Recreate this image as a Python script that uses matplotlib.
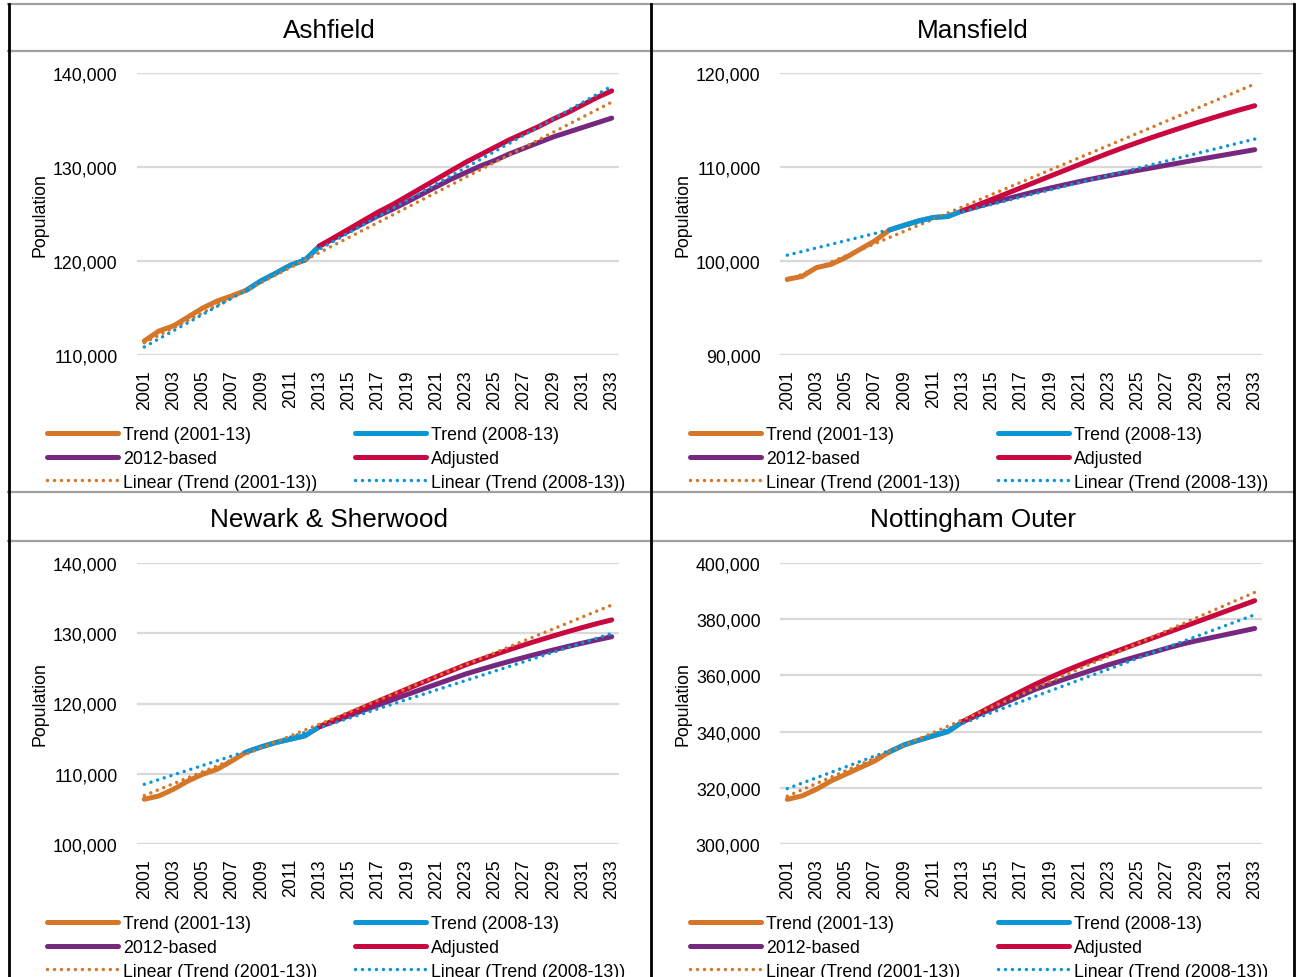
import matplotlib
matplotlib.use("Agg")
import matplotlib.pyplot as plt
from matplotlib.lines import Line2D
from matplotlib.ticker import FuncFormatter

plt.rcParams['font.family'] = ['Liberation Sans', 'DejaVu Sans']

years = list(range(2001, 2034))
hist_years = list(range(2001, 2014))
proj_years = list(range(2013, 2034))
tick_years = list(range(2001, 2034, 2))

districts = ["Ashfield", "Mansfield", "Newark & Sherwood", "Nottingham Outer"]

# history 2001-2013 (orange trend to 2008, blue trend 2008-2013)
ashfield_hist = [111500, 112550, 113100, 114050, 115000, 115750, 116300, 116900,
                 117900, 118700, 119550, 120100, 121600]
mansfield_hist = [98060, 98350, 99300, 99650, 100370, 101260, 102150, 103300,
                  103800, 104270, 104630, 104740, 105340]
newark_hist = [106370, 106840, 107800, 108980, 109930, 110640, 111830, 113100,
               113820, 114440, 114920, 115400, 116700]
notts_hist = [315900, 317100, 319480, 322450, 324820, 327200, 329570, 332800,
              335270, 336940, 338480, 340020, 343470]

# projections 2013-2033 (thousands)
ashfield_2012 = [121.6, 122.4, 123.2, 124.0, 124.8, 125.5, 126.3, 127.1, 127.9, 128.7, 129.4,
                 130.1, 130.7, 131.4, 132.0, 132.6, 133.2, 133.7, 134.2, 134.7, 135.2]
ashfield_adj = [121.6, 122.5, 123.4, 124.3, 125.2, 126.0, 126.9, 127.8, 128.7, 129.6, 130.5,
                131.3, 132.1, 132.9, 133.6, 134.3, 135.1, 135.8, 136.6, 137.4, 138.1]
mansfield_2012 = [105.34, 105.77, 106.19, 106.60, 107.00, 107.39, 107.76, 108.11, 108.45,
                  108.77, 109.07, 109.36, 109.64, 109.92, 110.20, 110.48, 110.76, 111.03,
                  111.30, 111.57, 111.84]
mansfield_adj = [105.34, 105.94, 106.55, 107.17, 107.79, 108.41, 109.03, 109.65, 110.27,
                 110.88, 111.48, 112.06, 112.62, 113.16, 113.68, 114.19, 114.69, 115.17,
                 115.64, 116.09, 116.52]
newark_2012 = [116.70, 117.47, 118.24, 119.01, 119.77, 120.53, 121.28, 122.02, 122.75,
               123.48, 124.20, 124.82, 125.42, 126.00, 126.56, 127.10, 127.62, 128.12,
               128.60, 129.06, 129.50]
newark_adj = [116.70, 117.62, 118.53, 119.43, 120.32, 121.20, 122.08, 122.95, 123.81,
              124.66, 125.50, 126.25, 126.97, 127.67, 128.34, 128.99, 129.62, 130.23,
              130.82, 131.38, 131.90]
notts_2012 = [343.5, 345.8, 348.1, 350.5, 352.8, 355.1, 356.9, 358.7, 360.4, 362.1, 363.8,
              365.3, 366.8, 368.2, 369.7, 371.1, 372.3, 373.4, 374.5, 375.6, 376.7]
notts_adj = [343.50, 346.25, 348.97, 351.65, 354.29, 356.89, 359.29, 361.54, 363.66,
             365.66, 367.59, 369.49, 371.39, 373.29, 375.19, 377.09, 378.99, 380.89,
             382.79, 384.69, 386.59]

# linear trendlines, values at 2001 and 2033
ashfield_lin01 = [111300, 136900]
ashfield_lin08 = [110850, 138600]
mansfield_lin01 = [97930, 118830]
mansfield_lin08 = [100620, 112970]
newark_lin01 = [106900, 134010]
newark_lin08 = [108500, 129980]
notts_lin01 = [317000, 389550]
notts_lin08 = [319710, 381590]

ylims = [(110000, 140000, 10000), (90000, 120000, 10000),
         (100000, 140000, 10000), (300000, 400000, 20000)]

hists = [ashfield_hist, mansfield_hist, newark_hist, notts_hist]
based = [ashfield_2012, mansfield_2012, newark_2012, notts_2012]
adjusted = [ashfield_adj, mansfield_adj, newark_adj, notts_adj]
lin01 = [ashfield_lin01, mansfield_lin01, newark_lin01, notts_lin01]
lin08 = [ashfield_lin08, mansfield_lin08, newark_lin08, notts_lin08]

ORANGE = "#D67628"
BLUE = "#0A96D6"
PURPLE = "#76287F"
RED = "#C8083E"
GRID = "#D9D9D9"
FRAME = "#A0A0A0"
FS = 12.8

W, H = 1297, 978
fig = plt.figure(figsize=(W / 100, H / 100), dpi=100)

# panel geometry in pixels: (axes left, axes top, axes bottom, panel left, title y)
panels = [(137, 74, 356, 8, 31), (780, 74, 356, 651, 31),
          (137, 564, 845, 8, 520), (780, 564, 845, 651, 520)]
AX_W = 482

fmt = FuncFormatter(lambda v, p: f"{int(v):,}")
dots = (0, (0.01, 2.0))

for i, name in enumerate(districts):
    axl, axt, axb, pl, ty = panels[i]
    ax = fig.add_axes([axl / W, 1 - axb / H, AX_W / W, (axb - axt) / H])
    lo, hi, step = ylims[i]
    ax.set_ylim(lo, hi)
    ax.set_xlim(years[0] - 0.5, years[-1] + 0.5)
    ax.set_yticks(range(lo, hi + 1, step))
    ax.yaxis.set_major_formatter(fmt)
    ax.set_xticks(tick_years)
    ax.set_xticklabels([str(y) for y in tick_years], rotation=90)
    ax.grid(axis='y', color=GRID, lw=1.6)
    ax.set_axisbelow(True)
    for s in ax.spines.values():
        s.set_visible(False)
    ax.tick_params(length=0, labelsize=FS)
    ax.tick_params(axis='y', pad=14)
    ax.tick_params(axis='x', pad=10)
    ax.set_ylabel("Population", fontsize=FS, labelpad=3)

    h = hists[i]
    scale = 1000
    l1, = ax.plot(hist_years, h, color=ORANGE, lw=3.6, solid_capstyle='round')
    l2, = ax.plot(hist_years[7:], h[7:], color=BLUE, lw=3.6, solid_capstyle='round')
    l3, = ax.plot(proj_years, [v * scale for v in based[i]], color=PURPLE, lw=3.6,
                  solid_capstyle='round')
    l4, = ax.plot(proj_years, [v * scale for v in adjusted[i]], color=RED, lw=3.6,
                  solid_capstyle='round')
    l5, = ax.plot([years[0], years[-1]], lin01[i], color=ORANGE, lw=2.5,
                  linestyle=dots, dash_capstyle='round')
    l6, = ax.plot([years[0], years[-1]], lin08[i], color=BLUE, lw=2.5,
                  linestyle=dots, dash_capstyle='round')

    ax.legend([l1, l3, l5, l2, l4, l6],
              ["Trend (2001-13)", "2012-based", "Linear (Trend (2001-13))",
               "Trend (2008-13)", "Adjusted", "Linear (Trend (2008-13))"],
              ncol=2, loc='upper left', frameon=False, fontsize=FS,
              bbox_to_anchor=((pl + 39) / W, 1 - (axb + 71) / H),
              bbox_transform=fig.transFigure, borderpad=0, borderaxespad=0,
              handlelength=4.0, handletextpad=0.28, columnspacing=2.1,
              labelspacing=0.38)

    fig.text((pl + 321.5) / W, 1 - ty / H, name, ha='center', va='center', fontsize=18.8)

# panel frames
for y in (5, 52, 493, 542):
    fig.add_artist(Line2D([8 / W, 1294 / W], [1 - y / H, 1 - y / H], color=FRAME, lw=1.6))
for x in (8.5, 651, 1294):
    fig.add_artist(Line2D([x / W, x / W], [1 - 5 / H, 0], color="black", lw=2))

fig.savefig("out.png", dpi=100)
